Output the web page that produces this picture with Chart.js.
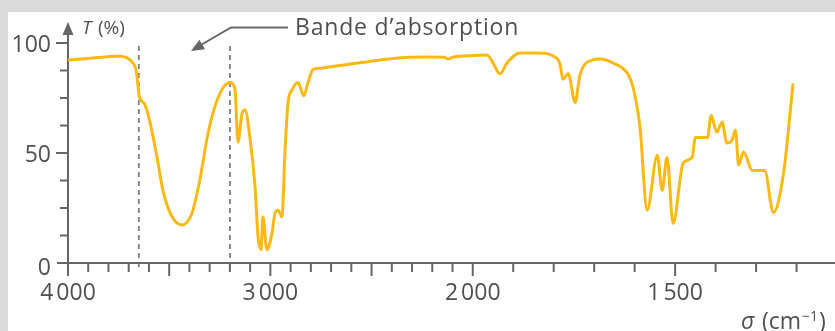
<!DOCTYPE html>
<html><head><meta charset="utf-8">
<script src="https://cdn.jsdelivr.net/npm/chart.js@4/dist/chart.umd.min.js"></script>
<style>
html,body{margin:0;padding:0;background:#dadada;width:835px;height:331px;overflow:hidden}
#panel{position:absolute;left:8px;top:12px;width:827px;height:319px;background:#fff}
#wrap{position:absolute;left:0;top:0;width:835px;height:331px}
</style></head><body>
<div id="panel"></div>
<div id="wrap"><canvas id="c" width="835" height="331"></canvas></div>
<script>
// ---- data (wavenumber in cm^-1, transmittance in %) ----
const wavenumbers = [4000,3900,3743,3684,3662,3648,3620,3595,3560,3531,
  3486,3437,3387,3348,3308,3259,3200,3175,3160,3140,
  3125,3101,3076,3061,3046,3037,3017,2992,2977,2962,
  2943,2928,2913,2893,2863,2835,2814,2789,2755,2720,
  2557,2394,2226,2140,2122,2100,2063,2000,1965,1950,
  1933,1915,1883,1841,1792,1784,1777,1764,1747,1735,
  1703,1686,1654,1617,1604,1587,1569,1544,1532,1520,
  1505,1480,1458,1450,1420,1411,1397,1384,1372,1359,
  1351,1343,1331,1309,1279,1257,1232,1209];
const transmittance = [92.3,93,94,91.4,87,76,72,64,48,33,
  21,17.3,22.7,38,59,75,82,79,55,68,
  69.5,57,35,12,6,21,6,13.6,22.7,24,
  21,50,72.7,78.6,82,76,82,88,88.5,89,
  91,93,93.6,93.5,92.7,93.5,94,94.3,94.5,91,
  86,91,95.5,95.5,93,90,83.5,86,73,85.5,
  92.3,92.7,91,86,80,62,24,49,33,48,
  18,45.5,48,57,57,67,59.5,64,54.5,56,
  60.5,44.5,50.5,42,42,23,41,81];
const xTickLabels = [4000,3000,2000,1500];
const xTicks = [4000,3900,3800,3700,3600,3500,3400,3300,3200,3100,3000,2900,2800,2700,2600,2500,2400,2300,2200,2100,2000,1900,1800,1700,1600,1500,1400,1300,1200];
const xLongTicks = [4000,3500,3000,2500,2000,1500];
const yTickLabels = [0,50,100];
const yMinorTicks = [12.5,25,37.5,62.5,75,87.5];
const bandLines = [3650,3200];
const annotationText = 'Bande d\u2019absorption';

// IR axis: scale changes at 2000 cm^-1 (twice as stretched below 2000)
function toAxis(s){ return s >= 2000 ? 4000 - s : 2000 + 2*(2000 - s); }
function fmt(n){ const s = String(n); return n >= 1000 ? s.slice(0, s.length-3) + '\u202F' + s.slice(-3) : s; }

const points = wavenumbers.map((s,i) => ({x: toAxis(s), y: transmittance[i]}));
const FONT = '"Open Sans", "Noto Sans", sans-serif';
const AX = '#666666', TXT = '#505050';

const deco = {
  id: 'deco',
  beforeDatasetsDraw(chart){
    const {ctx, scales:{x, y}} = chart;
    const x0 = x.getPixelForValue(toAxis(4000));
    const y0 = y.getPixelForValue(0);
    ctx.save();
    // dashed band lines
    ctx.strokeStyle = '#808080'; ctx.lineWidth = 1.8; ctx.setLineDash([5,4]);
    bandLines.forEach(s => {
      const px = x.getPixelForValue(toAxis(s));
      ctx.beginPath(); ctx.moveTo(px, y.getPixelForValue(100) + 3); ctx.lineTo(px, y0 + 8); ctx.stroke();
    });
    ctx.setLineDash([]);
    // axes
    ctx.strokeStyle = AX; ctx.fillStyle = AX; ctx.lineWidth = 2;
    ctx.beginPath(); ctx.moveTo(x0 - 11, y0); ctx.lineTo(chart.width, y0); ctx.stroke();
    ctx.beginPath(); ctx.moveTo(x0, y0); ctx.lineTo(x0, 34); ctx.stroke();
    ctx.beginPath(); ctx.moveTo(x0, 22); ctx.lineTo(x0 - 5.5, 35); ctx.lineTo(x0 + 5.5, 35); ctx.closePath(); ctx.fill();
    // x ticks
    xTicks.forEach(s => {
      const px = x.getPixelForValue(toAxis(s));
      const len = xLongTicks.includes(s) ? 13 : 9;
      ctx.beginPath(); ctx.moveTo(px, y0); ctx.lineTo(px, y0 + len); ctx.stroke();
    });
    // y ticks
    yTickLabels.forEach(v => { if (v === 0) return; const py = y.getPixelForValue(v); ctx.beginPath(); ctx.moveTo(x0 - 12, py); ctx.lineTo(x0, py); ctx.stroke(); });
    yMinorTicks.forEach(v => { const py = y.getPixelForValue(v); ctx.beginPath(); ctx.moveTo(x0 - 8, py); ctx.lineTo(x0, py); ctx.stroke(); });
    ctx.restore();
  },
  afterDraw(chart){
    const {ctx, scales:{x, y}} = chart;
    const x0 = x.getPixelForValue(toAxis(4000));
    const y0 = y.getPixelForValue(0);
    ctx.save();
    ctx.fillStyle = TXT;
    ctx.font = '23px ' + FONT;
    // x labels
    ctx.textAlign = 'center'; ctx.textBaseline = 'alphabetic';
    xTickLabels.forEach(s => ctx.fillText(fmt(s), x.getPixelForValue(toAxis(s)), y0 + 37));
    // y labels
    ctx.textAlign = 'right';
    yTickLabels.forEach(v => { const py = y.getPixelForValue(v); ctx.fillText(fmt(v), x0 - 17, py + (v === 0 ? 12 : 9)); });
    // axis titles
    ctx.textAlign = 'left';
    ctx.font = 'italic 19px ' + FONT; ctx.fillText('T', 82, 34);
    ctx.font = '19px ' + FONT; ctx.fillText('(%)', 98, 34);
    ctx.font = 'italic 23px ' + FONT; ctx.fillText('\u03C3', 741, 329);
    ctx.font = '23px ' + FONT; ctx.fillText('(cm', 762, 329);
    let w = ctx.measureText('(cm').width;
    ctx.font = '14px ' + FONT; ctx.fillText('\u22121', 762 + w + 1, 321);
    let w2 = ctx.measureText('\u22121').width;
    ctx.font = '23px ' + FONT; ctx.fillText(')', 762 + w + w2 + 2, 329);
    // annotation
    ctx.font = '23px ' + FONT;
    ctx.letterSpacing = '0.8px';
    ctx.fillText(annotationText, 295, 35);
    ctx.letterSpacing = '0px';
    ctx.strokeStyle = AX; ctx.fillStyle = AX; ctx.lineWidth = 2;
    ctx.beginPath(); ctx.moveTo(288, 27.5); ctx.lineTo(231, 27.5); ctx.lineTo(200, 45.5); ctx.stroke();
    const tx = 191, ty = 51, ang = Math.atan2(ty - 27.5, tx - 231);
    ctx.beginPath(); ctx.moveTo(tx, ty);
    ctx.lineTo(tx - 13*Math.cos(ang) + 5.5*Math.sin(ang), ty - 13*Math.sin(ang) - 5.5*Math.cos(ang));
    ctx.lineTo(tx - 13*Math.cos(ang) - 5.5*Math.sin(ang), ty - 13*Math.sin(ang) + 5.5*Math.cos(ang));
    ctx.closePath(); ctx.fill();
    ctx.restore();
  }
};

new Chart(document.getElementById('c'), {
  type: 'line',
  data: { datasets: [{ data: points, borderColor: '#fcb813', borderWidth: 3, pointRadius: 0, fill: false, cubicInterpolationMode: 'monotone', borderJoinStyle: 'round', borderCapStyle: 'round' }] },
  options: {
    responsive: false, animation: false, devicePixelRatio: 1, events: [],
    layout: { padding: { left: 68, right: 0, top: 43, bottom: 68 } },
    plugins: { legend: { display: false }, tooltip: { enabled: false } },
    scales: {
      x: { type: 'linear', min: 0, max: 3790, display: false },
      y: { type: 'linear', min: 0, max: 100, display: false }
    }
  },
  plugins: [deco]
});
</script>
</body></html>
